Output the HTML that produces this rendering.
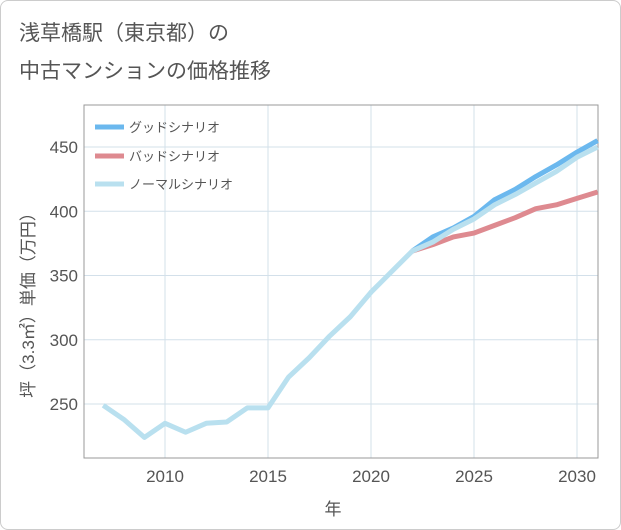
<!DOCTYPE html>
<html><head><meta charset="utf-8"><style>
body{margin:0;background:#fff;font-family:"Liberation Sans","Noto Sans CJK JP",sans-serif;}
#wrap{position:relative;width:619px;height:528px;border:1px solid #ccc;border-radius:8px;overflow:hidden;}
</style></head><body>
<div id="wrap">
<svg id="chart" width="621" height="530"></svg>
</div>
<script>
const years=[2007,2008,2009,2010,2011,2012,2013,2014,2015,2016,2017,2018,2019,2020,2021,2022,2023,2024,2025,2026,2027,2028,2029,2030,2031];
const normalVals=[249,238,224,235,228,235,236,247,247,271,286,303,318,337,353,369,376,386,394,405,413,422,431,442,450];
const goodYears=[2022,2023,2024,2025,2026,2027,2028,2029,2030,2031];
const goodVals=[369,380,387,396,409,417,427,436,446,455];
const badVals=[369,374,380,383,389,395,402,405,410,415];
const xTicks=[2010,2015,2020,2025,2030];
const yTicks=[250,300,350,400,450];
const NS="http://www.w3.org/2000/svg";
const svg=document.getElementById('chart');
const L=83,R=597,T=104,B=457;
const x=v=>164+(v-2010)*(576-164)/20;
const y=v=>403-(v-250)*(403-146)/200;
function mk(t,a){const e=document.createElementNS(NS,t);for(const k in a)e.setAttribute(k,a[k]);svg.appendChild(e);return e;}
let e;
e=mk('text',{x:18,y:39,'font-size':21,fill:'#555'});e.textContent='浅草橋駅（東京都）の';

e=mk('text',{x:18,y:77,'font-size':21,fill:'#555'});e.textContent='中古マンションの価格推移';

xTicks.forEach(t=>{
 e=mk('line',{x1:x(t),x2:x(t),y1:T,y2:B,stroke:'#d3e0ea'});
 
 e=mk('text',{x:x(t),y:481,'font-size':17,fill:'#555','text-anchor':'middle'});e.textContent=t;
 
});
yTicks.forEach(t=>{
 e=mk('line',{x1:L,x2:R,y1:y(t),y2:y(t),stroke:'#d3e0ea'});
 
 e=mk('text',{x:77,y:y(t)+6,'font-size':17,fill:'#555','text-anchor':'end'});e.textContent=t;
 
});
e=mk('rect',{x:L,y:T,width:R-L,height:B-T,fill:'none',stroke:'#999'});

e=mk('text',{x:332,y:514,'font-size':17,fill:'#555','text-anchor':'middle'});e.textContent='年';

e=mk('text',{x:0,y:0,'font-size':17,fill:'#555','text-anchor':'middle',transform:'translate(33,300) rotate(-90)'});e.textContent='坪（3.3㎡）単価（万円）';

function line(xs,vs,c,n){
 e=mk('polyline',{points:xs.map((t,i)=>x(t)+','+y(vs[i])).join(' '),fill:'none',stroke:c,'stroke-width':5,'stroke-linejoin':'round'});
 
}
line(goodYears,goodVals,'#6bb8ee','good-scenario-line');
line(goodYears,badVals,'#de8a90','bad-scenario-line');
line(years,normalVals,'#b9e0ef','normal-scenario-line');
[['グッドシナリオ','#6bb8ee',126],['バッドシナリオ','#de8a90',155],['ノーマルシナリオ','#b9e0ef',183]].forEach((l,i)=>{
 e=mk('line',{x1:94,x2:123,y1:l[2],y2:l[2],stroke:l[1],'stroke-width':5});
 
 e=mk('text',{x:128,y:l[2]+5,'font-size':13,fill:'#555'});e.textContent=l[0];
 
});
</script>
</body></html>
